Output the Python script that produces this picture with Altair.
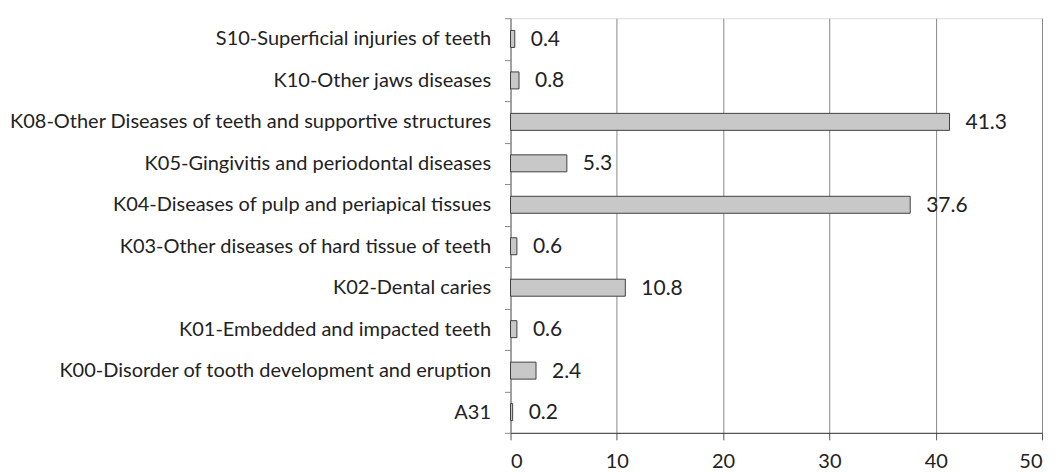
import altair as alt
import pandas as pd

categories = [
    "S10-Superficial injuries of teeth",
    "K10-Other jaws diseases",
    "K08-Other Diseases of teeth and supportive structures",
    "K05-Gingivitis and periodontal diseases",
    "K04-Diseases of pulp and periapical tissues",
    "K03-Other diseases of hard tissue of teeth",
    "K02-Dental caries",
    "K01-Embedded and impacted teeth",
    "K00-Disorder of tooth development and eruption",
    "A31",
]
values = [0.4, 0.8, 41.3, 5.3, 37.6, 0.6, 10.8, 0.6, 2.4, 0.2]
x_ticks = [0, 10, 20, 30, 40, 50]

df = pd.DataFrame({"category": categories, "value": values})
df["label"] = [f"{v:.1f}" for v in values]

FONT = "Lato"

y_enc = alt.Y(
    "category:N",
    sort=categories,
    title=None,
    scale=alt.Scale(paddingInner=0, paddingOuter=0),
    axis=alt.Axis(
        tickBand="extent",
        labelFont=FONT,
        labelFontSize=20,
        labelColor="#222222",
        labelPadding=14,
        labelLimit=1000,
        tickSize=6,
        tickColor="#888888",
        domainColor="#888888",
        grid=False,
    ),
)

x_enc = alt.X(
    "value:Q",
    title=None,
    scale=alt.Scale(domain=[0, 50], nice=False),
    axis=alt.Axis(
        values=x_ticks,
        labelFont=FONT,
        labelFontSize=20,
        labelColor="#222222",
        labelPadding=12,
        tickSize=7,
        tickColor="#555555",
        domainColor="#333333",
        grid=True,
        gridColor="#888888",
        gridWidth=1,
    ),
)

bars = alt.Chart(df).mark_bar(
    size=17, color="#c8c8c8", stroke="#404040", strokeWidth=1
).encode(y=y_enc, x=x_enc)

texts = alt.Chart(df).mark_text(
    align="left", baseline="middle", dx=16, dy=1, font=FONT, fontSize=21, color="#222222"
).encode(y=alt.Y("category:N", sort=categories), x="value:Q", text="label:N")

chart = (
    alt.layer(bars, texts)
    .properties(width=532, height=415, padding={"left": 0, "top": 0, "right": 5, "bottom": 0})
    .configure_view(stroke=None)
    .configure(background="white")
)

chart.save("out.html", embed_options={"renderer": "svg", "actions": False})
